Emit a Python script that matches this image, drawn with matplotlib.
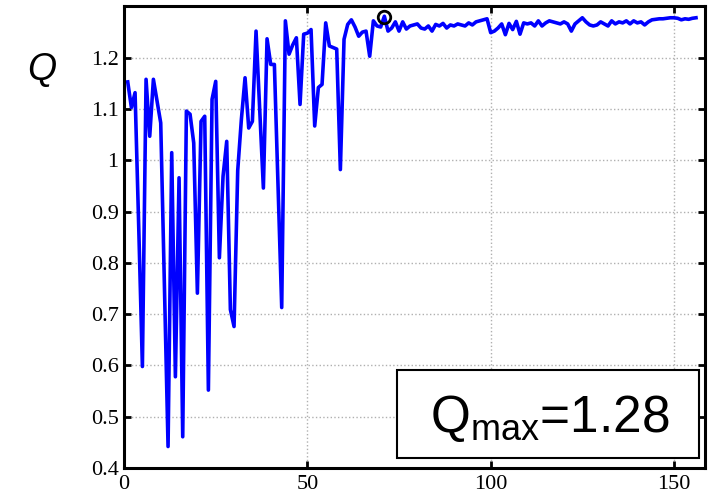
import numpy as np
import matplotlib
matplotlib.use("Agg")
import matplotlib.pyplot as plt
from matplotlib.patches import Rectangle

# ---------------------------------------------------------------
# data (iteration vs Q)
# ---------------------------------------------------------------

q_early = [1.153, 1.103, 1.132, 0.870, 0.598, 1.158, 1.047, 1.158, 1.115, 1.073,
           0.760, 0.442, 1.015, 0.578, 0.966, 0.461, 1.096, 1.090, 1.034, 0.741,
           1.076, 1.086, 0.552, 1.119, 1.154, 0.810, 0.969, 1.037, 0.709, 0.676,
           0.980, 1.080, 1.161, 1.063, 1.076, 1.252, 1.100, 0.946, 1.237, 1.187,
           1.187, 0.950, 0.713, 1.272, 1.207, 1.225, 1.239, 1.109, 1.246, 1.248,
           1.255, 1.067, 1.142, 1.148, 1.268, 1.223, 1.220, 1.217, 0.982, 1.236]

q_late = [1.265, 1.274, 1.260, 1.242, 1.250, 1.252, 1.203, 1.272, 1.262, 1.260,
          1.281, 1.252, 1.258, 1.270, 1.252, 1.270, 1.256, 1.262, 1.264, 1.266,
          1.258, 1.256, 1.262, 1.252, 1.265, 1.262, 1.267, 1.258, 1.264, 1.262,
          1.266, 1.264, 1.262, 1.268, 1.264, 1.270, 1.272, 1.274, 1.276, 1.249,
          1.252, 1.258, 1.266, 1.245, 1.267, 1.255, 1.271, 1.246, 1.268, 1.266,
          1.268, 1.262, 1.272, 1.262, 1.268, 1.272, 1.270, 1.268, 1.266, 1.270,
          1.266, 1.252, 1.266, 1.272, 1.278, 1.270, 1.264, 1.262, 1.264, 1.270,
          1.266, 1.262, 1.272, 1.266, 1.270, 1.268, 1.272, 1.266, 1.272, 1.268,
          1.270, 1.264, 1.270, 1.274, 1.275, 1.276, 1.276, 1.277, 1.278, 1.278,
          1.277, 1.274, 1.276, 1.275, 1.277, 1.278]

q = np.array(q_early + q_late)
iters = np.arange(1, len(q) + 1)

q_max = 1.28
i_max = 71  # iteration where the circle marker sits

x_ticks = [0, 50, 100, 150]
y_ticks = [0.4, 0.5, 0.6, 0.7, 0.8, 0.9, 1.0, 1.1, 1.2]
y_ticklabels = ["0.4", "0.5", "0.6", "0.7", "0.8", "0.9", "1", "1.1", "1.2"]

# ---------------------------------------------------------------
# plot
# ---------------------------------------------------------------

plt.rcParams["mathtext.fontset"] = "custom"
plt.rcParams["mathtext.rm"] = "Liberation Sans"

fig = plt.figure(figsize=(7.13, 4.99), dpi=100)
ax = fig.add_axes([0.174, 0.062, 0.815, 0.925])

ax.plot(iters, q, color="#0000ff", linewidth=2.6)
ax.plot([i_max], [q_max], marker="o", markersize=9, markerfacecolor="none",
        markeredgecolor="black", markeredgewidth=2, clip_on=False)

ax.set_xlim(0, 158.5)
ax.set_ylim(0.4, 1.3)
ax.set_xticks(x_ticks)
ax.set_yticks(y_ticks)
ax.set_yticklabels(y_ticklabels)

ax.grid(True, color="#b0b0b0", linestyle=":", linewidth=1)
ax.tick_params(direction="in", length=5, width=2, top=True, right=True,
               labelsize=16)
ax.tick_params(axis="x", pad=5)
ax.tick_params(axis="y", pad=4)
for lab in ax.get_xticklabels() + ax.get_yticklabels():
    lab.set_fontfamily("Liberation Serif")
for sp in ax.spines.values():
    sp.set_linewidth(2.2)

# Q label at the top left
fig.text(27 / 713, 1 - 80 / 499, "Q", fontsize=27, fontstyle="italic",
         family="Liberation Sans")

# boxed Q_max annotation
ax.add_patch(Rectangle((0.47, 0.022), 0.52, 0.19, transform=ax.transAxes,
                       facecolor="white", edgecolor="black", linewidth=1.5, zorder=5))
ax.text(0.733, 0.078, r"$\mathrm{Q_{max}}$=1.28", transform=ax.transAxes,
        ha="center", va="baseline", fontsize=37, family="Liberation Sans", zorder=6)

plt.savefig("out.png", dpi=100)
